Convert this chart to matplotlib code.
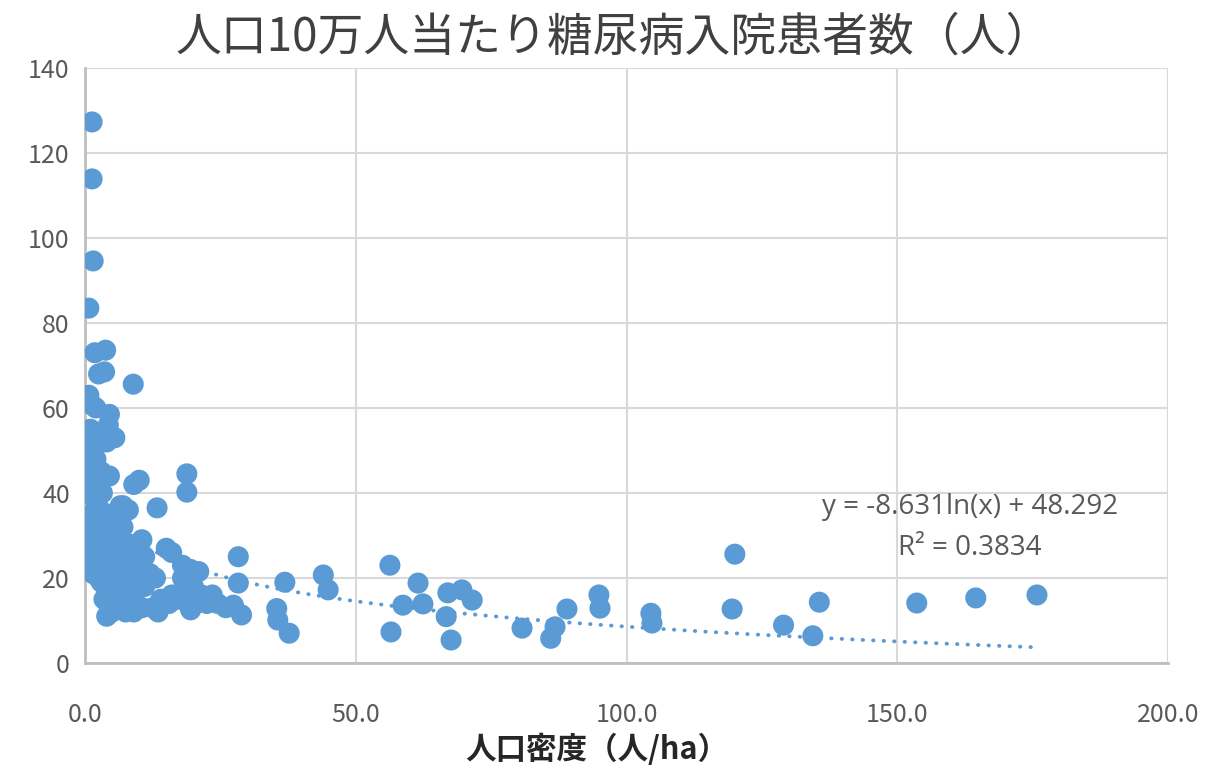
import numpy as np
import matplotlib
matplotlib.use("Agg")
from matplotlib import pyplot as plt

plt.rcParams['font.family'] = ['Noto Sans CJK JP', 'DejaVu Sans']

# population density (persons/ha) vs diabetes inpatients per 100k
density = [1.3, 1.3, 1.5, 0.7, 1.8, 3.8, 3.6, 8.9, 2.5, 0.7, 1.5, 2.0, 4.5, 5.5, 1.0, 0.5,
           18.8, 18.8, 10.0, 9.0, 13.3, 7.0, 8.0, 10.5, 15.0, 16.0, 18.0, 19.5, 21.0,
           28.3, 28.3, 27.4, 28.9, 36.9, 35.4, 35.6, 37.7, 44.0, 44.9, 56.3, 56.5, 58.7,
           61.5, 62.4, 67.0, 66.7, 67.6, 69.6, 71.5, 80.7, 86.0, 86.8, 89.0, 94.9, 95.1,
           104.5, 104.7, 120.0, 119.5, 129.0, 134.4, 135.6, 153.6, 164.5, 175.8,
           # dense cluster near the origin
           0.5, 0.6, 0.8, 1.0, 1.2, 4.3, 3.5, 4.0, 1.2, 2.0, 2.5, 3.0, 3.2, 2.8, 1.5, 2.2,
           1.0, 1.5, 2.5, 3.0, 3.5, 4.0, 4.5, 5.0, 5.5, 6.0, 6.5, 7.2, 7.0, 8.0, 6.0, 5.0,
           4.0, 3.5, 4.0, 5.0, 6.0, 6.5, 7.0, 8.0, 9.0, 10.0, 9.5, 8.5, 7.5, 9.0, 10.5,
           11.0, 12.0, 13.0, 12.5, 13.5, 14.0, 15.5, 16.0, 17.0, 18.0, 19.0, 19.5, 20.5,
           21.5, 22.5, 23.5, 24.5, 26.0, 18.0, 20.0, 6.0, 2.0, 3.0, 7.5, 11.0, 1.0, 2.0,
           0.8, 5.0, 2.5, 4.5, 0.5, 1.0, 2.0, 3.0, 4.0, 5.5, 6.5, 8.0, 3.0, 5.0, 7.0, 4.5]
patients = [127.3, 113.9, 94.6, 83.5, 73.0, 73.6, 68.5, 65.6, 68.0, 63.0, 60.5, 60.0, 58.5, 53.0, 55.0, 53.0,
            44.5, 40.2, 43.0, 42.0, 36.5, 37.0, 36.0, 29.0, 27.0, 26.0, 23.0, 22.0, 21.5,
            25.0, 18.8, 13.6, 11.3, 19.0, 12.8, 10.1, 7.0, 20.7, 17.2, 23.0, 7.3, 13.6,
            18.8, 13.9, 16.5, 10.9, 5.4, 17.2, 14.8, 8.2, 5.8, 8.5, 12.7, 16.0, 12.9,
            11.7, 9.4, 25.6, 12.7, 8.9, 6.4, 14.3, 14.1, 15.3, 16.0,
            28.0, 42.0, 40.0, 45.0, 47.0, 56.0, 53.0, 52.0, 35.0, 38.0, 42.0, 45.0, 40.0, 36.0, 30.0, 25.0,
            24.0, 21.0, 20.0, 23.0, 28.0, 32.0, 35.0, 30.0, 27.0, 25.0, 37.0, 36.0, 32.0, 28.0, 22.0, 19.0,
            17.0, 15.0, 11.0, 12.0, 14.0, 18.0, 20.0, 22.0, 24.0, 20.0, 17.0, 14.0, 12.0, 12.0, 13.0,
            18.0, 21.0, 20.0, 13.0, 12.0, 15.0, 14.0, 16.0, 15.0, 17.0, 14.0, 12.5, 14.0,
            16.0, 14.0, 16.0, 14.0, 13.0, 20.0, 18.0, 30.0, 31.0, 27.0, 25.0, 25.0, 50.0, 48.0,
            43.0, 33.0, 33.0, 44.0, 40.0, 33.0, 27.0, 33.0, 25.0, 22.0, 27.0, 17.0, 19.0, 16.0, 15.0, 13.0]

trend_a = -8.631
trend_b = 48.292
title = '人口10万人当たり糖尿病入院患者数（人）'
xlabel = '人口密度（人/ha）'

blue = '#5B9BD5'
fig = plt.figure(figsize=(12.08, 7.70), dpi=100)
ax = fig.add_axes([0.0704, 0.139, 0.8965, 0.7727])

ax.scatter(density, patients, s=230, color=blue, edgecolors='none', zorder=3)

# logarithmic trendline over the data range
xt = np.linspace(min(density), max(density), 400)
ax.plot(xt, trend_a * np.log(xt) + trend_b, color=blue, lw=2.8,
        linestyle=(0, (0.1, 2.6)), dash_capstyle='round', zorder=2)

ax.set_xlim(0, 200)
ax.set_ylim(0, 140)
ax.set_xticks(np.arange(0, 201, 50))
ax.set_xticklabels(['%.1f' % v for v in np.arange(0, 201, 50)])
ax.set_yticks(np.arange(0, 141, 20))
ax.grid(True, color='#D9D9D9', lw=1.5, zorder=0)
ax.set_axisbelow(True)
for s in ['top', 'right']:
    ax.spines[s].set_visible(False)
for s in ['left', 'bottom']:
    ax.spines[s].set_color('#BFBFBF')
    ax.spines[s].set_linewidth(2)
ax.tick_params(length=0, labelsize=18, labelcolor='#595959')
ax.tick_params(axis='x', pad=28)
ax.tick_params(axis='y', pad=11)

eq_font = ['Open Sans', 'DejaVu Sans']
ax.text(0.817, 0.262, 'y = -8.631ln(x) + 48.292', transform=ax.transAxes,
        ha='center', va='center', fontsize=20, color='#595959', family=eq_font)
ax.text(0.817, 0.193, 'R² = 0.3834', transform=ax.transAxes,
        ha='center', va='center', fontsize=20, color='#595959', family=eq_font)

fig.text(0.508, 0.951, title, ha='center', va='center', fontsize=33, color='#404040')
fig.text(0.494, 0.026, xlabel, ha='center', va='center', fontsize=22, weight='bold', color='#262626')

fig.savefig('out.png', dpi=100)
